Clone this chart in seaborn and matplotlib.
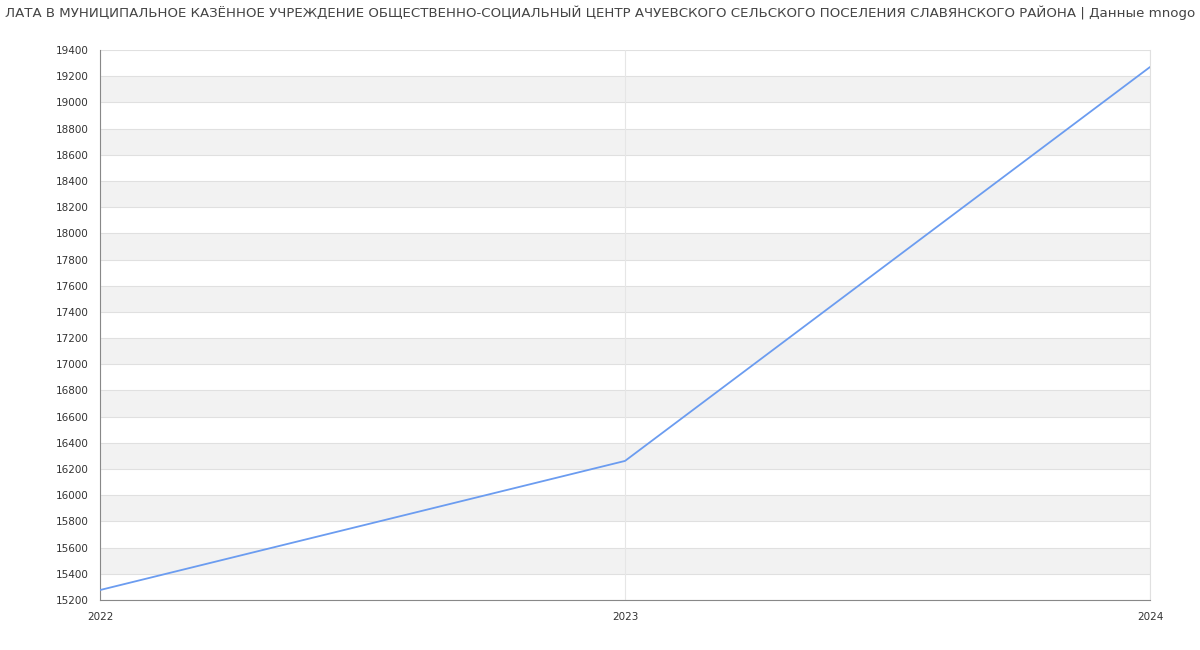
import matplotlib
matplotlib.use("Agg")
import matplotlib.pyplot as plt
import seaborn as sns
import pandas as pd
import numpy as np

years = [2022, 2023, 2024]
salary = [15276, 16262, 19270]
y_ticks = list(range(15200, 19401, 200))
title = ("ЛАТА В МУНИЦИПАЛЬНОЕ КАЗЁННОЕ УЧРЕЖДЕНИЕ ОБЩЕСТВЕННО-СОЦИАЛЬНЫЙ ЦЕНТР "
         "АЧУЕВСКОГО СЕЛЬСКОГО ПОСЕЛЕНИЯ СЛАВЯНСКОГО РАЙОНА | Данные mnogo")

sns.set_style("white")
plt.rcParams['font.family'] = ['DejaVu Sans']

df = pd.DataFrame({"year": years, "salary": salary})

fig = plt.figure(figsize=(12, 6.5), dpi=100)
ax = fig.add_axes([100/1200, 50/650, 1050/1200, 550/650])

# alternating bands
for i, lo in enumerate(y_ticks[:-1]):
    if i % 2 == 1:
        ax.axhspan(lo, lo + 200, color="#f2f2f2", zorder=0, lw=0)
for t in y_ticks:
    ax.axhline(t, color="#e0e0e0", lw=0.8, zorder=1)
for x in years:
    ax.axvline(x, color="#e6e6e6", lw=0.8, zorder=1)

sns.lineplot(data=df, x="year", y="salary", ax=ax, color="#6b9cf0", lw=1.3, zorder=3)

ax.set_xlim(2022, 2024)
ax.set_ylim(15200, 19400)
ax.set_yticks(y_ticks)
ax.set_yticklabels([str(t) for t in y_ticks])
ax.set_xticks(years)
ax.set_xticklabels([str(y) for y in years])
ax.set_xlabel("")
ax.set_ylabel("")
ax.tick_params(axis="y", labelsize=7.5, colors="#333333", length=5, width=0.8, color="#888888", pad=3)
ax.tick_params(axis="x", labelsize=7.5, colors="#333333", length=0, pad=9)
for lab in ax.get_yticklabels() + ax.get_xticklabels():
    lab.set_color("#333333")

ax.spines["top"].set_visible(False)
ax.spines["right"].set_color("#e0e0e0")
ax.spines["right"].set_linewidth(0.8)
ax.spines["left"].set_color("#888888")
ax.spines["bottom"].set_color("#888888")
ax.spines["left"].set_linewidth(0.8)
ax.spines["bottom"].set_linewidth(0.8)

fig.text(0.5, 1 - 13/650, title, ha="center", va="center", fontsize=9.62, color="#444444")

fig.savefig("out.png", dpi=100)
